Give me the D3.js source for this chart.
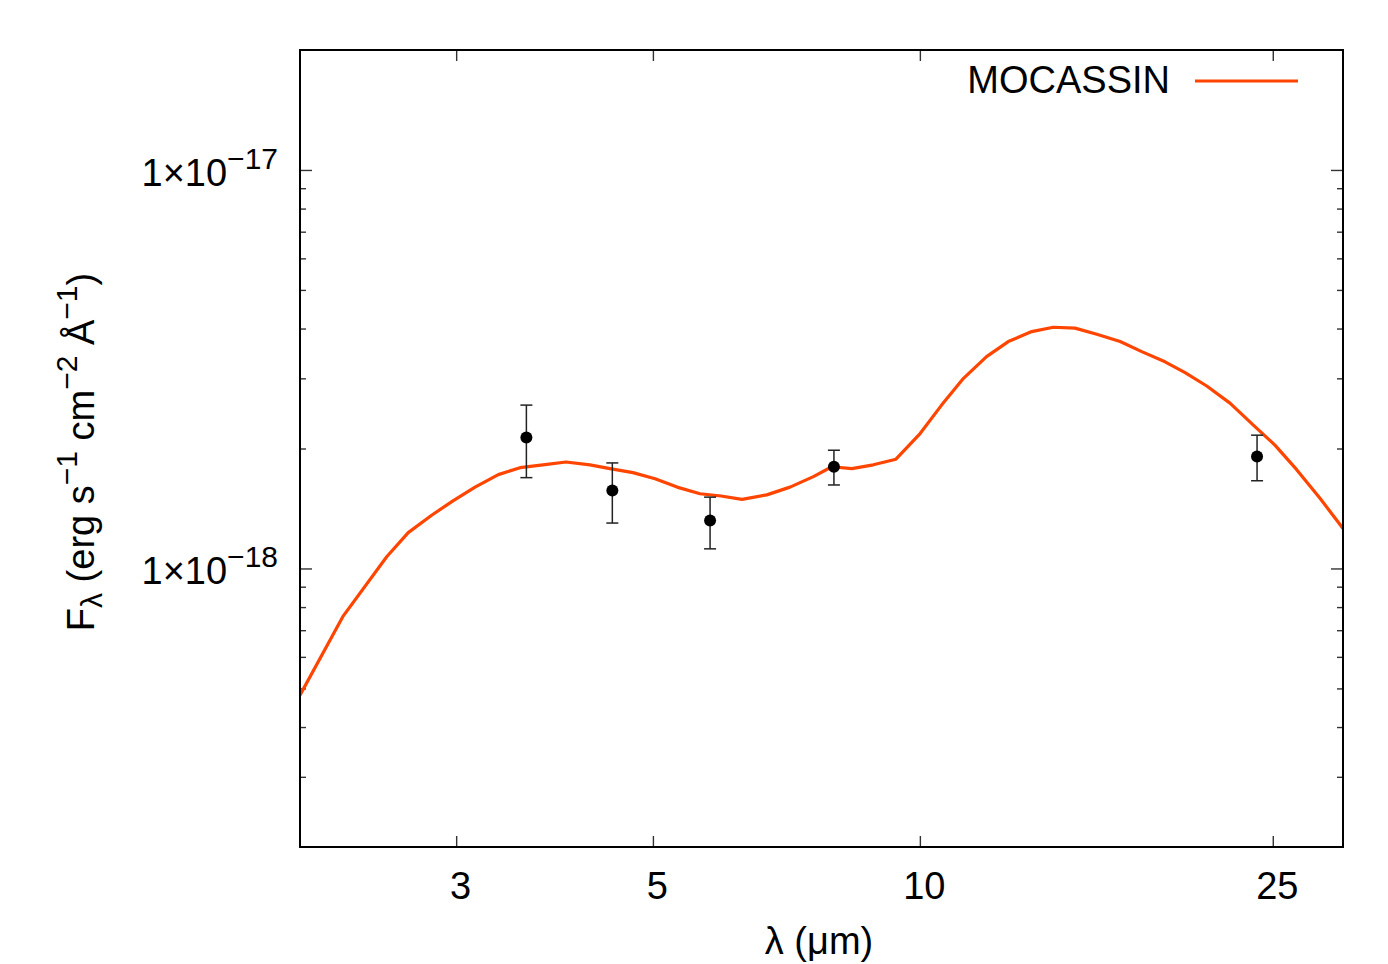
<!DOCTYPE html>
<html><head><meta charset="utf-8">
<script src="https://cdn.jsdelivr.net/npm/d3@7"></script>
<style>body{margin:0;background:#fff}</style>
</head><body>
<svg id="chart" width="1388" height="964"></svg>
<script>
// ---- data ----
const modelWavelength = [2.0, 2.235, 2.505, 2.649, 2.815, 2.978, 3.151, 3.347, 3.541, 3.758, 3.99, 4.246, 4.472, 4.748, 5.028, 5.324, 5.651, 5.967, 6.302, 6.72, 7.138, 7.585, 7.956, 8.38, 8.862, 9.398, 10.006, 10.58, 11.2, 11.89, 12.58, 13.37, 14.14, 14.96, 15.83, 16.82, 17.79, 18.9, 19.91, 21.06, 22.37, 23.77, 25.14, 26.6, 28.26, 30.0];
const modelFlux = [4.81e-19, 7.57e-19, 1.07e-18, 1.23e-18, 1.36e-18, 1.48e-18, 1.60e-18, 1.72e-18, 1.79e-18, 1.82e-18, 1.85e-18, 1.82e-18, 1.78e-18, 1.74e-18, 1.68e-18, 1.60e-18, 1.54e-18, 1.52e-18, 1.49e-18, 1.53e-18, 1.60e-18, 1.70e-18, 1.80e-18, 1.78e-18, 1.82e-18, 1.88e-18, 2.18e-18, 2.57e-18, 3.00e-18, 3.40e-18, 3.71e-18, 3.93e-18, 4.03e-18, 4.01e-18, 3.87e-18, 3.71e-18, 3.50e-18, 3.30e-18, 3.10e-18, 2.87e-18, 2.60e-18, 2.29e-18, 2.04e-18, 1.77e-18, 1.50e-18, 1.26e-18];
const obsWavelength = [3.6, 4.5, 5.8, 8.0, 24.0];
const obsFlux = [2.13e-18, 1.57e-18, 1.32e-18, 1.80e-18, 1.91e-18];
const obsFluxHigh = [2.57e-18, 1.84e-18, 1.51e-18, 1.98e-18, 2.16e-18];
const obsFluxLow = [1.69e-18, 1.30e-18, 1.12e-18, 1.62e-18, 1.66e-18];
const xTicks = [3, 5, 10, 25];
const yMajorTicks = [1e-18, 1e-17];
const yMajorExp = ["\u221218", "\u221217"];
const yMinorTicks = [3e-19, 4e-19, 5e-19, 6e-19, 7e-19, 8e-19, 9e-19, 2e-18, 3e-18, 4e-18, 5e-18, 6e-18, 7e-18, 8e-18, 9e-18];
const legendLabel = "MOCASSIN";

// ---- layout ----
const W = 1388, H = 964;
const L = 300, R = 1343, T = 50, B = 847;
const FONT = "'Liberation Sans', Arial, Helvetica, sans-serif";
const FS = 38, FSS = 30;
const lineColor = "#ff4500";

const svg = d3.select("#chart");
const x = d3.scaleLog().domain([2, 30]).range([L, R]);
const y = d3.scaleLog().domain([2e-19, 2e-17]).range([B, T]);

svg.append("defs").append("clipPath").attr("id", "clip")
  .append("rect").attr("x", L).attr("y", T).attr("width", R - L).attr("height", B - T);

function styleAxis(g) {
  g.select(".domain").remove();
  g.selectAll(".tick line").attr("stroke", "#333").attr("stroke-width", 1.4);
}

// x axes (bottom and top)
const gxb = svg.append("g").attr("transform", `translate(0,${B})`)
  .call(d3.axisBottom(x).tickValues(xTicks).tickSize(-11).tickFormat(d3.format("d")));
styleAxis(gxb);
gxb.selectAll("text").attr("x", 4).attr("y", 52).attr("dy", 0)
  .attr("font-family", FONT).attr("font-size", FS).attr("fill", "#000");
const gxt = svg.append("g").attr("transform", `translate(0,${T})`)
  .call(d3.axisTop(x).tickValues(xTicks).tickSize(-11).tickFormat(""));
styleAxis(gxt);

// y axes major + minor, left and right
const gyl = svg.append("g").attr("transform", `translate(${L},0)`)
  .call(d3.axisLeft(y).tickValues(yMajorTicks).tickSize(-12).tickFormat(""));
styleAxis(gyl);
const gylm = svg.append("g").attr("transform", `translate(${L},0)`)
  .call(d3.axisLeft(y).tickValues(yMinorTicks).tickSize(-6).tickFormat(""));
styleAxis(gylm);
const gyr = svg.append("g").attr("transform", `translate(${R},0)`)
  .call(d3.axisRight(y).tickValues(yMajorTicks).tickSize(-12).tickFormat(""));
styleAxis(gyr);
const gyrm = svg.append("g").attr("transform", `translate(${R},0)`)
  .call(d3.axisRight(y).tickValues(yMinorTicks).tickSize(-6).tickFormat(""));
styleAxis(gyrm);

// y tick labels 1x10^n
yMajorTicks.forEach((v, i) => {
  const t = svg.append("text")
    .attr("x", 278).attr("y", y(v) + 16)
    .attr("text-anchor", "end")
    .attr("font-family", FONT).attr("font-size", FS).attr("fill", "#000");
  t.append("tspan").text("1\u00d710");
  t.append("tspan").attr("font-size", FSS).attr("dy", -17).text(yMajorExp[i]);
});

// model curve
const line = d3.line().x(d => x(d[0])).y(d => y(d[1]));
svg.append("path")
  .datum(modelWavelength.map((w, i) => [w, modelFlux[i]]))
  .attr("clip-path", "url(#clip)")
  .attr("fill", "none").attr("stroke", lineColor).attr("stroke-width", 3.2)
  .attr("stroke-linejoin", "round")
  .attr("d", line);

// observations with error bars
const obs = obsWavelength.map((w, i) => ({w, f: obsFlux[i], hi: obsFluxHigh[i], lo: obsFluxLow[i]}));
const eg = svg.append("g").attr("stroke", "#222").attr("stroke-width", 1.5);
obs.forEach(d => {
  eg.append("line").attr("x1", x(d.w)).attr("x2", x(d.w)).attr("y1", y(d.hi)).attr("y2", y(d.lo));
  eg.append("line").attr("x1", x(d.w) - 6).attr("x2", x(d.w) + 6).attr("y1", y(d.hi)).attr("y2", y(d.hi));
  eg.append("line").attr("x1", x(d.w) - 6).attr("x2", x(d.w) + 6).attr("y1", y(d.lo)).attr("y2", y(d.lo));
});
svg.append("g").selectAll("circle").data(obs).join("circle")
  .attr("cx", d => x(d.w)).attr("cy", d => y(d.f)).attr("r", 6).attr("fill", "#000");

// frame
svg.append("rect").attr("x", L).attr("y", T).attr("width", R - L).attr("height", B - T)
  .attr("fill", "none").attr("stroke", "#000").attr("stroke-width", 2);

// legend
svg.append("text").attr("x", 1170).attr("y", 93).attr("text-anchor", "end")
  .attr("font-family", FONT).attr("font-size", FS).attr("fill", "#000").text(legendLabel);
svg.append("line").attr("x1", 1195).attr("x2", 1298).attr("y1", 81).attr("y2", 81)
  .attr("stroke", lineColor).attr("stroke-width", 3.2);

// x title
svg.append("text").attr("x", 819).attr("y", 954).attr("text-anchor", "middle")
  .attr("font-family", FONT).attr("font-size", FS).attr("fill", "#000")
  .text("\u03bb (\u03bcm)");

// y title
const yt = svg.append("text")
  .attr("transform", "translate(94,452) rotate(-90)")
  .attr("text-anchor", "middle")
  .attr("font-family", FONT).attr("font-size", FS).attr("fill", "#000");
yt.append("tspan").text("F");
yt.append("tspan").attr("font-size", FSS).attr("dy", 8).text("\u03bb");
yt.append("tspan").attr("dy", -8).text(" (erg s");
yt.append("tspan").attr("font-size", FSS).attr("dy", -17).text("\u22121");
yt.append("tspan").attr("dy", 17).text(" cm");
yt.append("tspan").attr("font-size", FSS).attr("dy", -17).text("\u22122");
yt.append("tspan").attr("dy", 17).text(" \u00c5");
yt.append("tspan").attr("font-size", FSS).attr("dy", -17).text("\u22121");
yt.append("tspan").attr("dy", 17).text(")");
</script>
</body></html>
